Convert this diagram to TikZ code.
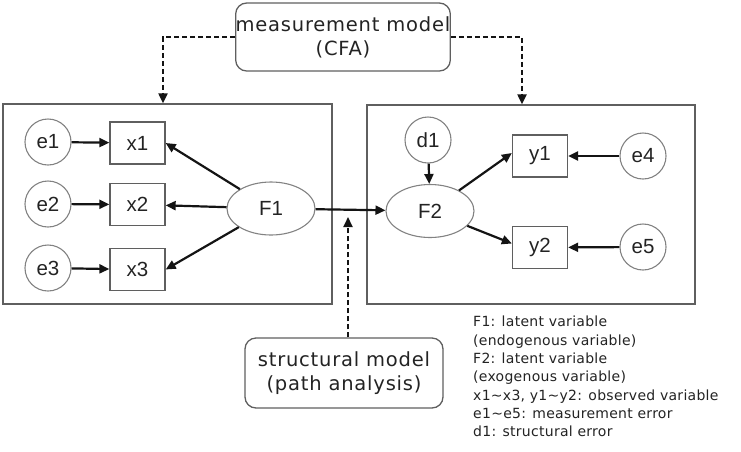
\documentclass[tikz,border=0pt]{standalone}
\usepackage{fontspec}
\setmainfont{Liberation Sans}
\newfontfamily\dejavu[LetterSpace=4]{DejaVu Sans}
\newfontfamily\dejavulegend[LetterSpace=2]{DejaVu Sans}
\usetikzlibrary{arrows.meta,shapes.geometric}
\definecolor{boxgray}{RGB}{95,95,95}
\definecolor{circgray}{RGB}{130,130,130}
\definecolor{inkc}{RGB}{20,20,20}
\definecolor{txtc}{RGB}{35,35,35}
\tikzset{
  frame/.style={draw=boxgray, line width=1.4pt, inner sep=0pt},
  obs/.style={draw=boxgray, line width=1.3pt, minimum width=55pt, minimum height=42pt, inner sep=0pt, font=\fontsize{20.5}{22}\selectfont, text=txtc},
  err/.style={circle, draw=circgray, line width=1.1pt, minimum size=46pt, inner sep=0pt, font=\fontsize{20.5}{22}\selectfont, text=txtc},
  lat/.style={ellipse, draw=circgray, line width=1.1pt, minimum width=88pt, minimum height=53pt, inner sep=0pt, font=\fontsize{20.5}{22}\selectfont, text=txtc},
  label box/.style={draw=boxgray, line width=1.3pt, rounded corners=11pt, inner sep=0pt, align=center, text=txtc, font=\dejavu\fontsize{19.5}{24}\selectfont},
  path arrow/.style={draw=inkc, line width=2.2pt, -{Triangle[length=10pt,width=9pt]}},
  dash arrow/.style={draw=inkc, line width=2.2pt, dash pattern=on 5pt off 3pt, -{Triangle[length=10pt,width=9pt]}},
}
\begin{document}
\begin{tikzpicture}[x=1pt,y=-1pt]
\useasboundingbox (0,0) rectangle (741,451);
% frames
\node[frame, minimum width=329pt, minimum height=200pt] (lbox) at (167.5,204) {};
\node[frame, minimum width=328pt, minimum height=199pt] (rbox) at (531,204.5) {};
% label boxes
\node[label box, minimum width=210pt, minimum height=68pt] (meas) at (343,37) {measurement model\\(CFA)};
\node[label box, minimum width=198pt, minimum height=70pt] (struc) at (344,373) {structural model\\(path analysis)};
% left part
\node[err] (e1) at (48,142) {e1};
\node[err] (e2) at (48,204) {e2};
\node[err] (e3) at (48,268) {e3};
\node[obs] (x1) at (137.5,143) {x1};
\node[obs] (x2) at (137.5,204.5) {x2};
\node[obs] (x3) at (137.5,269.5) {x3};
\node[lat] (F1) at (271,208.5) {F1};
% right part
\node[err] (d1) at (428,140) {d1};
\node[lat] (F2) at (430,211) {F2};
\node[obs] (y1) at (540,156) {y1};
\node[obs] (y2) at (540,247.5) {y2};
\node[err] (e4) at (643,156) {e4};
\node[err] (e5) at (643,247) {e5};
% legend
\node[anchor=north west, align=left, inner sep=0pt, text=txtc, font=\dejavulegend\fontsize{14}{18.3}\selectfont] (legend) at (473,316) {F1: latent variable\\(endogenous variable)\\F2: latent variable\\(exogenous variable)\\x1\textasciitilde x3, y1\textasciitilde y2: observed variable\\e1\textasciitilde e5: measurement error\\d1: structural error};
% connectors
\draw[path arrow] (e1) -- (x1);
\draw[path arrow] (e2) -- (x2);
\draw[path arrow] (e3) -- (x3);
\draw[path arrow] (F1) -- (x1.east);
\draw[path arrow] (F1) -- (x2);
\draw[path arrow] (F1) -- (x3.east);
\draw[path arrow] (F1) -- (F2);
\draw[path arrow] (d1) -- (F2);
\draw[path arrow] (F2) -- ([yshift=3pt]y1.west);
\draw[path arrow] (F2) -- ([yshift=4pt]y2.west);
\draw[path arrow] (e4) -- (y1);
\draw[path arrow] (e5) -- (y2);
% dashed links
\draw[dash arrow] (meas.west) -| ([xshift=-4.5pt]lbox.north);
\draw[dash arrow] (meas.east) -| ([xshift=-9pt]rbox.north);
\coordinate (stip) at (348,217);
\draw[dash arrow] ([xshift=4pt]struc.north) -- (stip);
\end{tikzpicture}
\end{document}
